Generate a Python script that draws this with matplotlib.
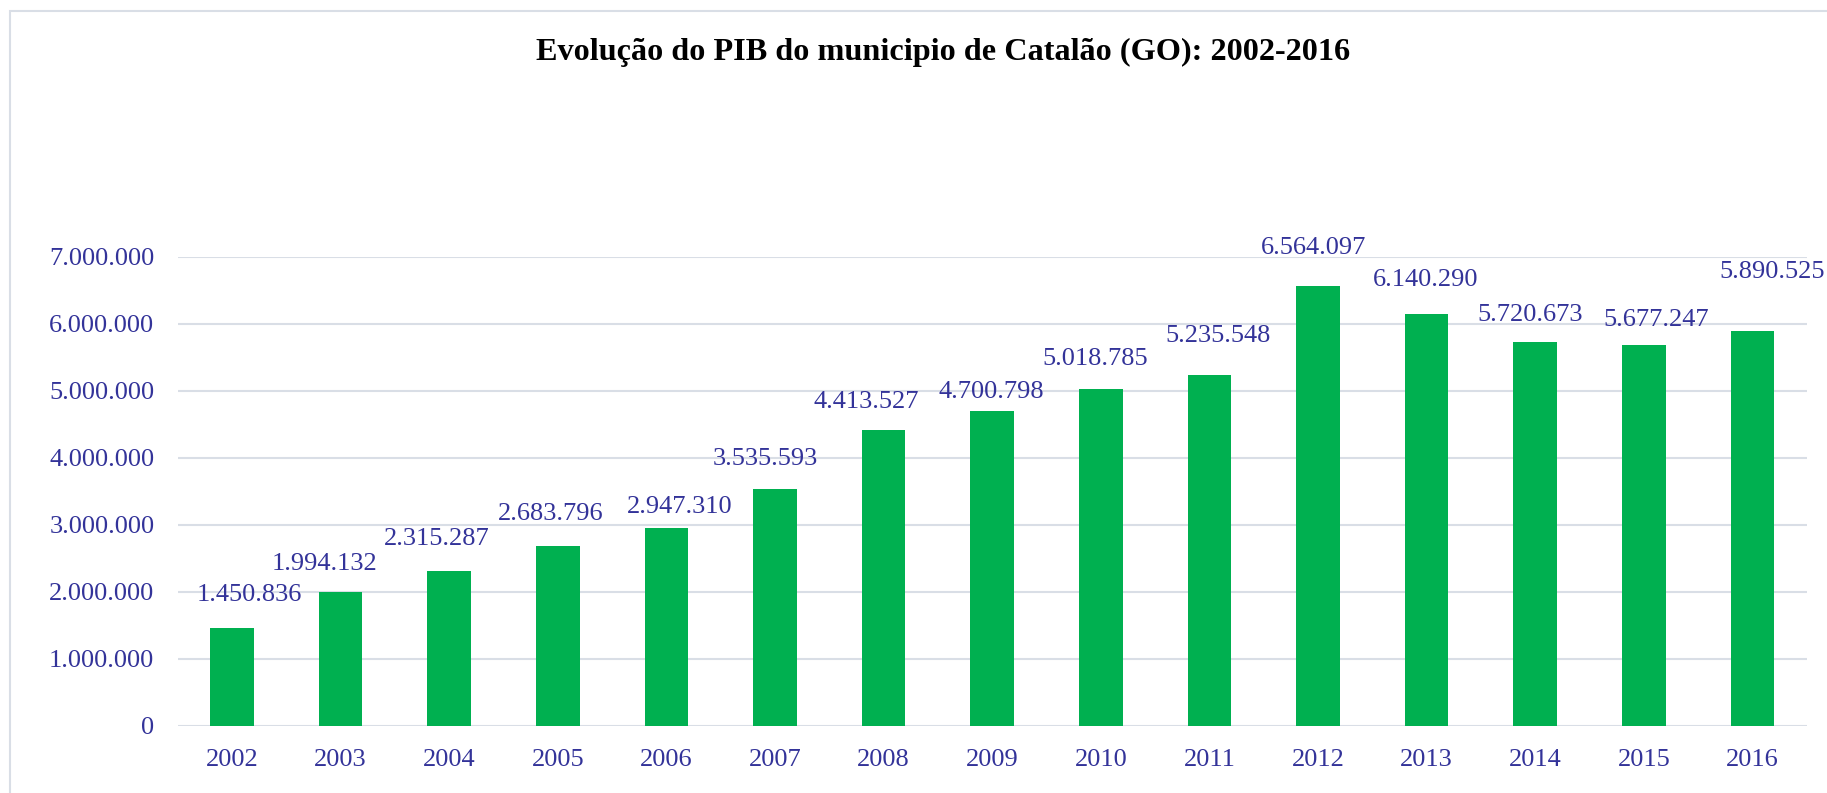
import matplotlib
matplotlib.use("Agg")
import matplotlib.pyplot as plt
from matplotlib.patches import Rectangle
from matplotlib.ticker import FuncFormatter, MultipleLocator

# ---- data ----
years = ["2002", "2003", "2004", "2005", "2006", "2007", "2008", "2009",
         "2010", "2011", "2012", "2013", "2014", "2015", "2016"]
pib = [1450836, 1994132, 2315287, 2683796, 2947310, 3535593, 4413527, 4700798,
       5018785, 5235548, 6564097, 6140290, 5720673, 5677247, 5890525]
title = "Evolução do PIB do municipio de Catalão (GO): 2002-2016"

# ---- layout (label offsets from bar top, in pixels) ----
label_dx = [17.5, -16, -12, -7, 13.6, -9.3, -17, -1, -5.5, 9, -4, -1, -5.5, 12, 20]
label_dy = [33, 28, 32, 32, 21, 29.5, 27.5, 18.5, 30.6, 38.5, 38, 34, 27, 25, 59]

W, H = 1827, 793
DPI = 100
TXT = "#333399"
GREEN = "#00B050"
GRID = "#D9DEE6"

plt.rcParams["font.family"] = ["Liberation Serif", "DejaVu Serif"]

fig = plt.figure(figsize=(W / DPI, H / DPI), dpi=DPI)
ax = fig.add_axes([177.7 / W, 67.3 / H, (1806.7 - 177.7) / W, (725.7 - 256.7) / H])

x = list(range(len(years)))
ax.bar(x, pib, width=0.40, color=GREEN, zorder=3)

ax.set_xlim(-0.5, len(years) - 0.5)
ax.set_ylim(0, 7000000)
ax.yaxis.set_major_locator(MultipleLocator(1000000))
ax.yaxis.set_major_formatter(FuncFormatter(lambda v, p: f"{int(v):,}".replace(",", ".")))
ax.set_xticks(x)
ax.set_xticklabels(years)
ax.grid(axis="y", color=GRID, linewidth=1.5, zorder=0)
ax.set_axisbelow(True)
for s in ax.spines.values():
    s.set_visible(False)
ax.tick_params(axis="both", length=0, labelsize=19, labelcolor=TXT)
ax.tick_params(axis="y", pad=16.8)
ax.tick_params(axis="x", pad=17)

for xi, v, dx, dy in zip(x, pib, label_dx, label_dy):
    ax.annotate(f"{v:,}".replace(",", "."), xy=(xi, v), xytext=(dx, dy),
                textcoords="offset pixels", ha="center", va="center",
                fontsize=19, color=TXT, annotation_clip=False)

fig.text(942.7 / W, 1 - 60 / H, title, ha="center", va="baseline",
         fontsize=23.2, fontweight="bold", color="black")

fig.add_artist(Rectangle((10.3 / W, -0.2), 1.3, (1 - 11 / H) + 0.2,
                         transform=fig.transFigure, fill=False,
                         edgecolor=GRID, linewidth=1.5))

fig.savefig("out.png", dpi=DPI)
